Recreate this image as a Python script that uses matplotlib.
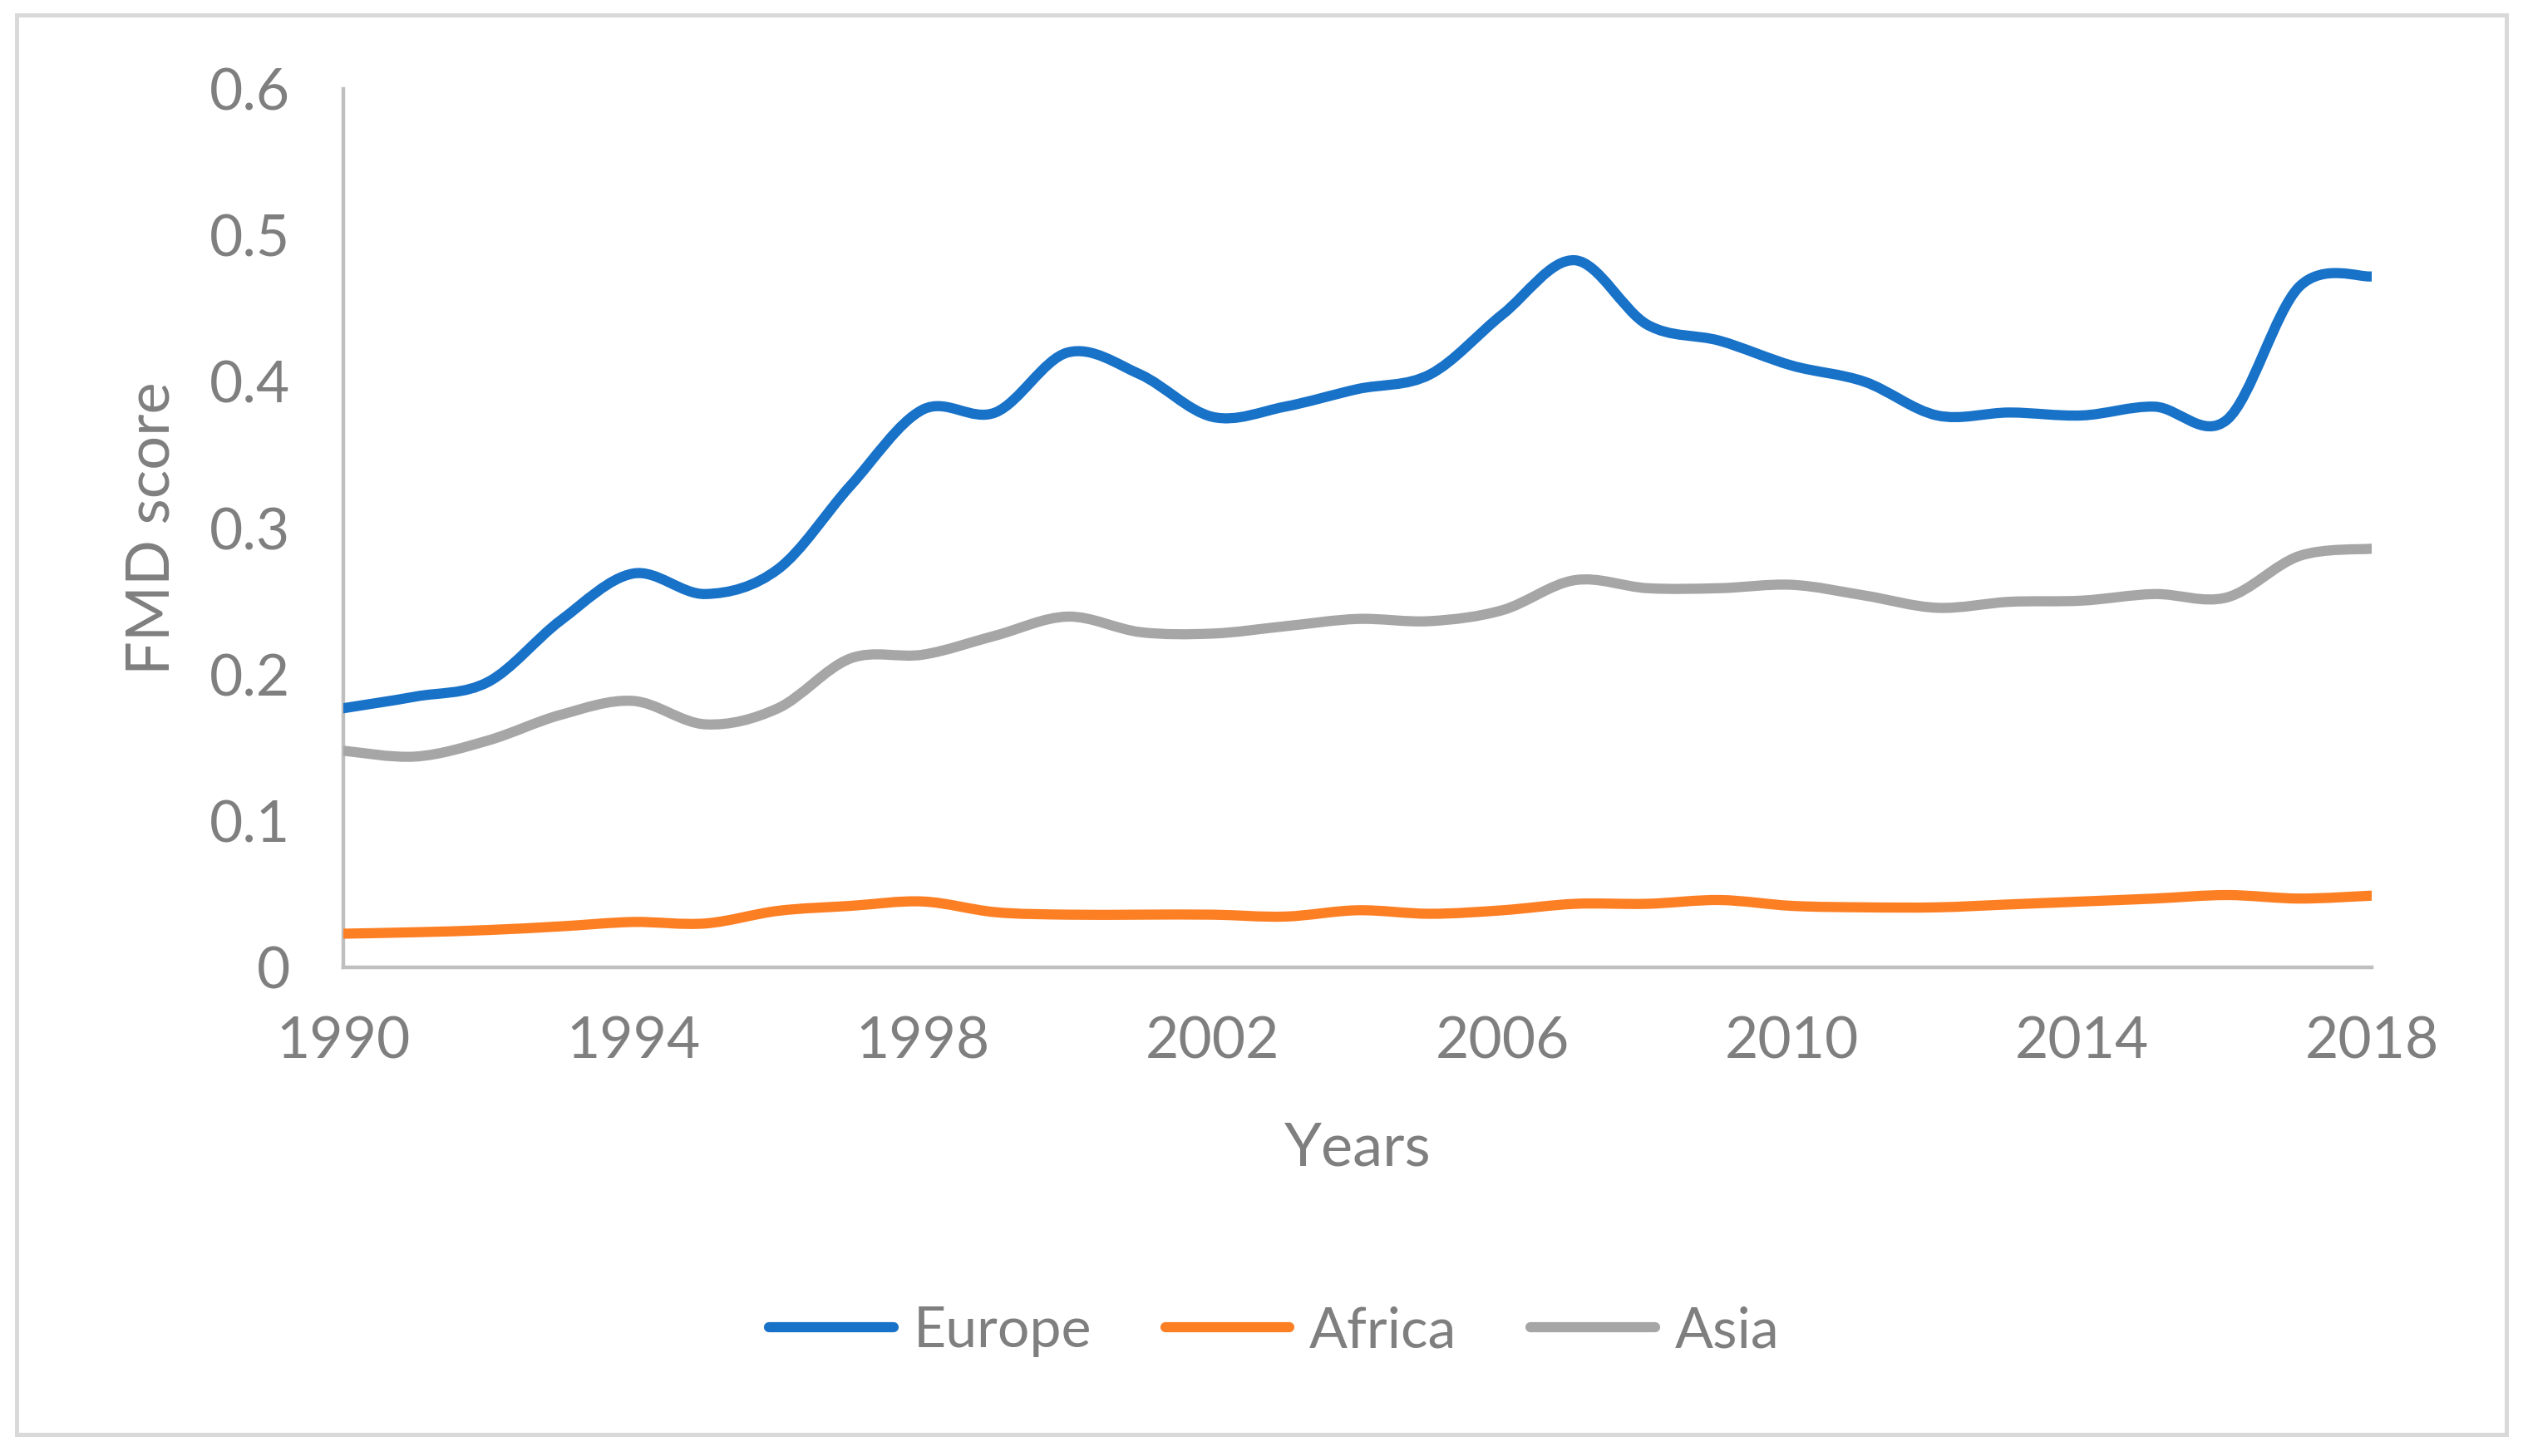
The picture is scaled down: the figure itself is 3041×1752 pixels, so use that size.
import matplotlib
matplotlib.use('Agg')
import matplotlib.pyplot as plt
from matplotlib.path import Path
from matplotlib.patches import PathPatch, Rectangle
from matplotlib.lines import Line2D
import numpy as np

plt.rcParams['font.family'] = ['Lato', 'DejaVu Sans']

# FMD score by region, 1990-2018
years = list(range(1990, 2019))
europe = [0.177, 0.185, 0.195, 0.237, 0.269, 0.255, 0.272, 0.329, 0.381, 0.379,
          0.420, 0.405, 0.376, 0.383, 0.395, 0.405, 0.446, 0.483, 0.439, 0.428,
          0.411, 0.400, 0.377, 0.379, 0.377, 0.383, 0.374, 0.465, 0.472]
africa = [0.023, 0.024, 0.0255, 0.028, 0.031, 0.030, 0.0386, 0.042, 0.045, 0.0377,
          0.036, 0.036, 0.036, 0.0347, 0.039, 0.0366, 0.039, 0.0434, 0.0434, 0.046,
          0.042, 0.041, 0.041, 0.043, 0.045, 0.047, 0.0494, 0.047, 0.049]
asia = [0.148, 0.144, 0.155, 0.1725, 0.182, 0.166, 0.177, 0.211, 0.2136, 0.2266,
        0.2396, 0.229, 0.228, 0.233, 0.238, 0.2365, 0.244, 0.2645, 0.259, 0.259,
        0.2613, 0.254, 0.2456, 0.2497, 0.2505, 0.255, 0.2527, 0.281, 0.286]

series_names = ['Europe', 'Africa', 'Asia']
series_colors = ['#1872C8', '#FD7F24', '#A6A6A6']
x_ticks = [1990, 1994, 1998, 2002, 2006, 2010, 2014, 2018]
y_ticks = [0, 0.1, 0.2, 0.3, 0.4, 0.5, 0.6]
y_tick_labels = ['0', '0.1', '0.2', '0.3', '0.4', '0.5', '0.6']

TEXT = '#7F7F7F'
LW = 4.4


def smooth_path(xs, ys):
    """Excel-style smoothed line: cubic bezier through every data point"""
    pts = np.column_stack([xs, ys]).astype(float)
    n = len(pts)
    verts = [pts[0]]
    codes = [Path.MOVETO]
    for i in range(n - 1):
        p0 = pts[i - 1] if i > 0 else pts[i]
        p1 = pts[i]
        p2 = pts[i + 1]
        p3 = pts[i + 2] if i + 2 < n else pts[i + 1]
        c1 = p1 + (p2 - p0) / 6.0
        c2 = p2 - (p3 - p1) / 6.0
        verts += [c1, c2, p2]
        codes += [Path.CURVE4] * 3
    return Path(verts, codes)


fig = plt.figure(figsize=(15.205, 8.76), dpi=200)
ax = fig.add_axes([0.1358, 0.3356, 0.8024, 0.6033])

for vals, color in zip([europe, africa, asia], series_colors):
    patch = PathPatch(smooth_path(years, vals), facecolor='none', edgecolor=color,
                      lw=LW, capstyle='round', joinstyle='round', zorder=3)
    ax.add_patch(patch)

ax.set_xlim(1990, 2018)
ax.set_ylim(0, 0.6)
ax.set_xticks(x_ticks)
ax.set_xticklabels([str(y) for y in x_ticks])
ax.set_yticks(y_ticks)
ax.set_yticklabels(y_tick_labels)
ax.tick_params(length=0, labelsize=25, labelcolor=TEXT)
ax.tick_params(axis='x', pad=21)
ax.tick_params(axis='y', pad=23)

for side in ['top', 'right']:
    ax.spines[side].set_visible(False)
for side in ['left', 'bottom']:
    ax.spines[side].set_color('#BFBFBF')
    ax.spines[side].set_linewidth(1.6)

ax.set_xlabel('Years', fontsize=26, color=TEXT, labelpad=23)
ax.set_ylabel('FMD score', fontsize=26, color=TEXT, labelpad=13)

handles = [Line2D([0], [0], color=c, lw=LW, solid_capstyle='round') for c in series_colors]
fig.legend(handles, series_names, loc='center', bbox_to_anchor=(0.504, 0.0856),
           ncol=3, frameon=False, fontsize=24.5, labelcolor=TEXT,
           handlelength=2.2, handletextpad=0.35, columnspacing=1.3)

# light grey chart-area border
fig.patches.append(Rectangle((0.0065, 0.0148), 0.985, 0.975, transform=fig.transFigure,
                             facecolor='none', edgecolor='#D9D9D9', lw=1.8))

fig.savefig('out.png', dpi=200, facecolor='white')
